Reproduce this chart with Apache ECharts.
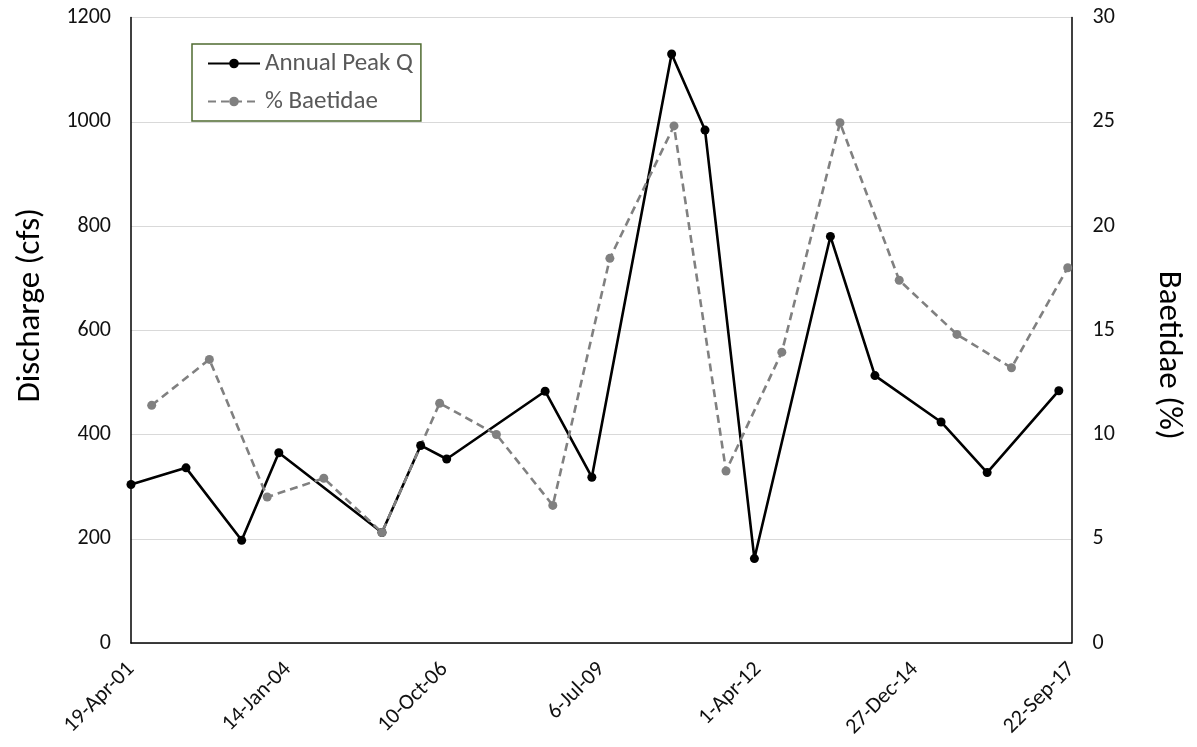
<!DOCTYPE html>
<html>
<head>
<meta charset="utf-8">
<script src="https://cdn.jsdelivr.net/npm/echarts@6/dist/echarts.min.js"></script>
<style>
html,body{margin:0;padding:0;background:#fff;}
#chart{width:1197px;height:747px;}
</style>
</head>
<body>
<div id="chart"></div>
<script>
// ---- data ----
const xTickLabels = ['19-Apr-01','14-Jan-04','10-Oct-06','6-Jul-09','1-Apr-12','27-Dec-14','22-Sep-17'];
const xStartDate = '2001-04-19';
const xTickStepDays = 1000;

const peakDates = ['2001-04-19','2002-04-05','2003-03-26','2003-11-18','2005-09-06','2006-05-11','2006-10-24',
  '2008-07-13','2009-05-07','2010-09-28','2011-04-29','2012-03-09','2013-07-07','2014-04-17','2015-06-13',
  '2016-04-02','2017-07-03'];
const peakQ = [304,336,197,365,212,379,353,483,318,1130,984,162,780,513,424,327,484];

const baetDates = ['2001-08-29','2002-09-01','2003-09-05','2004-08-31','2005-09-06','2006-09-09','2007-09-06',
  '2008-08-31','2009-08-30','2010-10-13','2011-09-10','2012-08-31','2013-09-06','2014-09-19','2015-09-22',
  '2016-09-04','2017-08-29'];
const baetPct = [11.4,13.6,7.0,7.9,5.3,11.5,10.0,6.6,18.45,24.8,8.25,13.95,24.95,17.4,14.8,13.2,18.0];

const leftTicks = [0,200,400,600,800,1000,1200];
const rightTicks = [0,5,10,15,20,25,30];

// ---- helpers ----
function dayIndex(s){
  const p = s.split('-').map(Number);
  const q = xStartDate.split('-').map(Number);
  return Math.round((Date.UTC(p[0],p[1]-1,p[2]) - Date.UTC(q[0],q[1]-1,q[2]))/86400000);
}
const peakData = peakDates.map((d,i)=>[dayIndex(d), peakQ[i]]);
const baetData = baetDates.map((d,i)=>[dayIndex(d), baetPct[i]]);

const FONT = 'Carlito, Calibri, Lato, sans-serif';
const chart = echarts.init(document.getElementById('chart'), null, {renderer:'canvas'});
chart.setOption({
  animation:false,
  backgroundColor:'#fff',
  textStyle:{fontFamily:FONT},
  grid:{left:131, right:125.5, top:17.5, bottom:104},
  legend:{
    orient:'vertical', left:192, top:44,
    itemWidth:52, itemHeight:12, itemGap:13,
    padding:[7,8,7,15],
    borderColor:'#4f6b30', borderWidth:1.5, backgroundColor:'#fff',
    textStyle:{fontFamily:FONT, fontSize:25, color:'#595959'},
    data:['Annual Peak Q','% Baetidae']
  },
  xAxis:{
    type:'value', min:0, max:(xTickLabels.length-1)*xTickStepDays, interval:xTickStepDays,
    axisLine:{show:true, lineStyle:{color:'#000', width:1.5}},
    axisTick:{show:false},
    splitLine:{show:false},
    axisLabel:{
      rotate:45, margin:23, fontSize:22, color:'#111', fontFamily:FONT,
      showMinLabel:true, showMaxLabel:true,
      formatter:function(v){ return xTickLabels[Math.round(v/xTickStepDays)] || ''; }
    }
  },
  yAxis:[{
    type:'value', min:leftTicks[0], max:leftTicks[leftTicks.length-1], interval:leftTicks[1]-leftTicks[0],
    position:'left',
    name:'Discharge (cfs)', nameLocation:'middle', nameGap:84, nameRotate:90,
    nameTextStyle:{fontFamily:FONT, fontSize:33, color:'#000', padding:[0,0,0,50]},
    axisLine:{show:true, lineStyle:{color:'#000', width:1.5}},
    axisTick:{show:false},
    axisLabel:{margin:20, fontSize:22, color:'#111', fontFamily:FONT, formatter:function(v){return String(v);}},
    splitLine:{show:true, lineStyle:{color:'#d9d9d9', width:1.2}}
  },{
    type:'value', min:rightTicks[0], max:rightTicks[rightTicks.length-1], interval:rightTicks[1]-rightTicks[0],
    position:'right',
    name:'Baetidae (%)', nameLocation:'middle', nameGap:80, nameRotate:-90,
    nameTextStyle:{fontFamily:FONT, fontSize:33, color:'#000', padding:[0,0,0,50]},
    axisLine:{show:true, lineStyle:{color:'#000', width:1.5}},
    axisTick:{show:false},
    axisLabel:{margin:21, fontSize:22, color:'#111', fontFamily:FONT, formatter:function(v){return String(v);}},
    splitLine:{show:false}
  }],
  series:[{
    name:'Annual Peak Q', type:'line', yAxisIndex:0, data:peakData,
    symbol:'circle', symbolSize:9, showSymbol:true, showAllSymbol:true,
    lineStyle:{color:'#000', width:2.6},
    itemStyle:{color:'#000'}
  },{
    name:'% Baetidae', type:'line', yAxisIndex:1, data:baetData,
    symbol:'circle', symbolSize:9, showSymbol:true, showAllSymbol:true,
    lineStyle:{color:'#808080', width:2.6, type:[8,5]},
    itemStyle:{color:'#808080'}
  }]
});
</script>
</body>
</html>
